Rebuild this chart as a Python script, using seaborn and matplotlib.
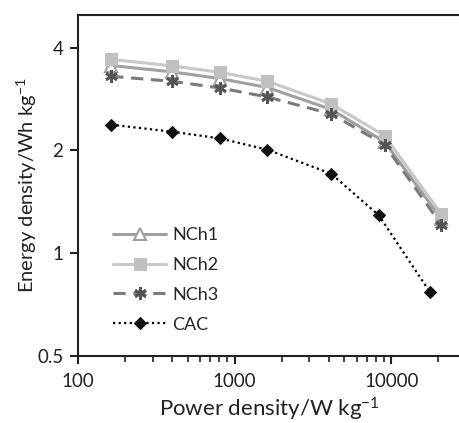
import matplotlib
matplotlib.use("Agg")
import matplotlib.pyplot as plt
import seaborn as sns
import numpy as np
import pandas as pd
from matplotlib.ticker import FixedLocator, NullFormatter, LogLocator

# Data
power_nch = [163, 400, 807, 1620, 4130, 9060, 20900]
power_cac = [163, 400, 807, 1620, 4130, 8340, 17600]
nch1 = [3.55, 3.40, 3.25, 3.06, 2.64, 2.12, 1.26]
nch2 = [3.70, 3.54, 3.39, 3.19, 2.74, 2.21, 1.30]
nch3 = [3.30, 3.19, 3.05, 2.87, 2.56, 2.08, 1.21]
cac = [2.38, 2.27, 2.17, 2.01, 1.71, 1.29, 0.77]

series_names = ["NCh1", "NCh2", "NCh3", "CAC"]
x_ticks = [100, 1000, 10000]
x_ticklabels = ["100", "1000", "10000"]
y_ticks = [0.5, 1, 2, 4]
y_ticklabels = ["0.5", "1", "2", "4"]

sns.set_style("ticks")
plt.rcParams["font.family"] = ["Lato", "DejaVu Sans"]
plt.rcParams["mathtext.fontset"] = "custom"
plt.rcParams["mathtext.rm"] = "Lato"
plt.rcParams["mathtext.it"] = "Lato"
plt.rcParams["mathtext.bf"] = "Lato"

fig = plt.figure(figsize=(4.59, 4.23), dpi=100)
ax = fig.add_axes([0.170, 0.159, 0.835, 0.806])

styles = {
    "NCh1": dict(color="#a0a0a0", linestyle="-", marker="^", markersize=8,
                 markerfacecolor="white", markeredgecolor="#a0a0a0", markeredgewidth=1.5, linewidth=2.2),
    "NCh2": dict(color="#c8c8c8", linestyle="-", marker="s", markersize=9,
                 markerfacecolor="#c0c0c0", markeredgecolor="#c0c0c0", linewidth=2.2),
    "NCh3": dict(color="#7a7a7a", linestyle=(0, (4, 2.5)), marker=(6, 2, 0), markersize=9,
                 markeredgecolor="#555555", markeredgewidth=2.0, linewidth=2.2),
    "CAC": dict(color="black", linestyle=(0, (1, 1.5)), marker="D", markersize=6.5,
                markerfacecolor="#111111", markeredgecolor="#111111", linewidth=1.6),
}

data = {
    "NCh1": (power_nch, nch1),
    "NCh2": (power_nch, nch2),
    "NCh3": (power_nch, nch3),
    "CAC": (power_cac, cac),
}

for name in series_names:
    xs, ys = data[name]
    df = pd.DataFrame({"x": xs, "y": ys})
    sns.lineplot(data=df, x="x", y="y", ax=ax, label=name, **styles[name])

ax.set_xscale("log")
ax.set_yscale("log")
ax.set_xlim(100, 28000)
ax.set_ylim(0.5, 5.0)

ax.xaxis.set_major_locator(FixedLocator(x_ticks))
ax.set_xticklabels(x_ticklabels)
ax.xaxis.set_minor_locator(LogLocator(base=10, subs=np.arange(2, 10)))
ax.xaxis.set_minor_formatter(NullFormatter())
ax.yaxis.set_major_locator(FixedLocator(y_ticks))
ax.set_yticklabels(y_ticklabels)
ax.yaxis.set_minor_locator(FixedLocator([]))

ax.tick_params(axis="both", which="major", direction="out", length=5.5, width=1.5,
               labelsize=13.5, colors="#222222")
ax.tick_params(axis="x", which="major", pad=7)
ax.tick_params(axis="y", which="major", pad=5)
ax.tick_params(axis="x", which="minor", direction="out", length=4.5, width=1.2, colors="#222222")

for side in ["left", "bottom", "top"]:
    ax.spines[side].set_linewidth(1.5)
    ax.spines[side].set_color("#222222")
ax.spines["right"].set_visible(False)

ax.set_xlabel("Power density/W kg$^{-1}$", fontsize=16, color="#222222", labelpad=4)
ax.set_ylabel("Energy density/Wh kg$^{-1}$", fontsize=14.5, color="#222222", labelpad=-1)

leg = ax.legend(loc="lower left", bbox_to_anchor=(0.05, 0.02), frameon=False,
                fontsize=13, handlelength=2.9, labelspacing=0.77, handletextpad=0.35)

fig.savefig("out.png", dpi=100)
